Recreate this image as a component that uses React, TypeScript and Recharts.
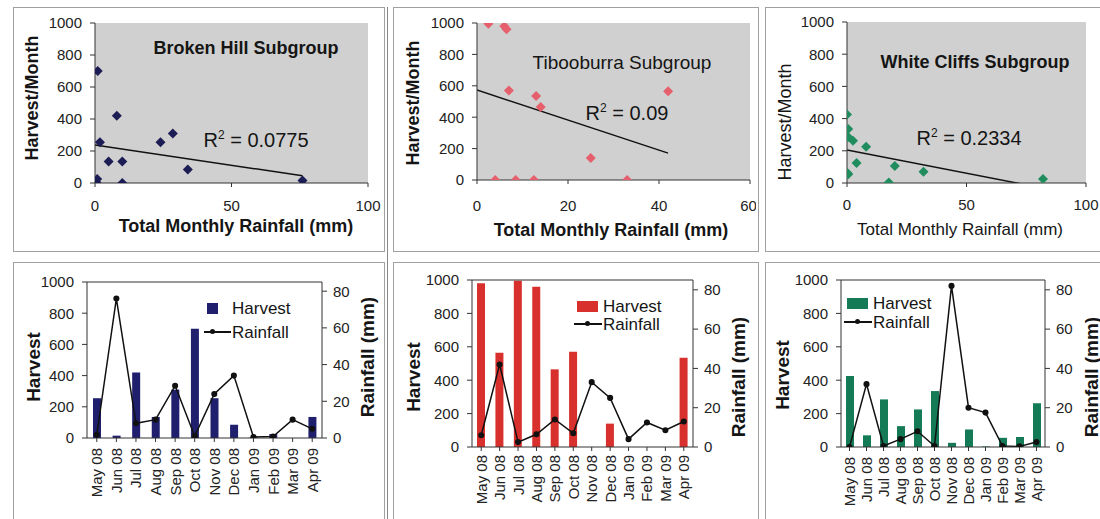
import React from 'react';
import {
  ScatterChart,
  Scatter,
  ComposedChart,
  Bar,
  Line,
  XAxis,
  YAxis,
  CartesianGrid,
  ReferenceLine,
} from 'recharts';

// months shared by all three subgroups
const months = ['May 08', 'Jun 08', 'Jul 08', 'Aug 08', 'Sep 08', 'Oct 08', 'Nov 08', 'Dec 08', 'Jan 09', 'Feb 09', 'Mar 09', 'Apr 09'];

const brokenHillHarvest = [255, 15, 420, 135, 310, 700, 255, 85, 5, 25, 0, 135];
const brokenHillRainfall = [1.8, 76, 8, 10, 28.5, 1, 24, 34, 0.5, 0.8, 10, 5];

const tibooburraHarvest = [980, 565, 995, 960, 465, 570, 0, 140, 0, 0, 0, 535];
const tibooburraRainfall = [6, 42, 2.5, 6.5, 14, 7, 33, 25, 4, 12.5, 8.5, 13];

const whiteCliffsHarvest = [425, 70, 285, 125, 225, 335, 25, 105, 3, 55, 60, 262];
const whiteCliffsRainfall = [0, 32, 0.5, 4, 8, 0.5, 82, 20, 17.5, 0.5, 0.3, 2.5];

const harvestTicks = [0, 200, 400, 600, 800, 1000];
const rainfallTicks = [0, 20, 40, 60, 80];
const brokenHillRainTicks = [0, 50, 100];
const tibooburraRainTicks = [0, 20, 40, 60];
const whiteCliffsRainTicks = [0, 50, 100];

const FONT = '"Liberation Sans", Arial, Helvetica, sans-serif';
const tickStyle = { fontSize: 15, fill: '#222', fontFamily: FONT };

type Pt = { x: number; y: number };
type Margin = { top: number; right: number; bottom: number; left: number };

// least squares trendline, like Excel's linear trendline
function trend(xs: number[], ys: number[]): Pt[] {
  const n = xs.length;
  const mx = xs.reduce((a, b) => a + b, 0) / n;
  const my = ys.reduce((a, b) => a + b, 0) / n;
  let sxy = 0;
  let sxx = 0;
  xs.forEach((x, i) => {
    sxy += (x - mx) * (ys[i] - my);
    sxx += (x - mx) * (x - mx);
  });
  const b = sxy / sxx;
  const a = my - b * mx;
  const xEnd = Math.max(...xs);
  return [{ x: 0, y: a }, { x: xEnd, y: a + b * xEnd }];
}

const diamond = (color: string) => (props: any) => {
  const { cx, cy } = props;
  const r = 5;
  return <polygon points={`${cx},${cy - r} ${cx + r},${cy} ${cx},${cy + r} ${cx - r},${cy}`} fill={color} />;
};

const Txt = ({ x, y, size, bold, rotate, anchor, children }: any) => (
  <div
    style={{
      position: 'absolute',
      left: x,
      top: y,
      transform: `translate(${anchor === 'start' ? '0' : '-50%'},-50%)${rotate ? ` rotate(${rotate}deg)` : ''}`,
      fontSize: size,
      fontWeight: bold ? 'bold' : 'normal',
      fontFamily: FONT,
      whiteSpace: 'nowrap',
      lineHeight: 1,
      color: '#151515',
    }}
  >
    {children}
  </div>
);

const R2 = ({ value }: { value: string }) => (
  <span>
    R<span style={{ fontSize: '0.6em', position: 'relative', top: '-0.65em' }}>2</span> = {value}
  </span>
);

interface ScatterPanelProps {
  left: number;
  top: number;
  width: number;
  height: number;
  margin: Margin;
  rain: number[];
  harvest: number[];
  xMax: number;
  xTicks: number[];
  color: string;
  tickGap: number;
}

const ScatterPanel = (p: ScatterPanelProps) => {
  const points = p.rain.map((x, i) => ({ x, y: p.harvest[i] }));
  return (
    <div style={{ position: 'absolute', left: p.left, top: p.top }}>
      <ScatterChart width={p.width} height={p.height} margin={p.margin}>
        <CartesianGrid fill="#d0d0d0" horizontal={false} vertical={false} />
        <XAxis
          type="number"
          dataKey="x"
          domain={[0, p.xMax]}
          ticks={p.xTicks}
          height={30}
          stroke="#333"
          tickSize={4}
          tickMargin={p.tickGap}
          tick={tickStyle}
          allowDataOverflow
        />
        <YAxis
          type="number"
          dataKey="y"
          domain={[0, 1000]}
          ticks={harvestTicks}
          width={40}
          stroke="#333"
          tickSize={5}
          tickMargin={8}
          tick={tickStyle}
          allowDataOverflow
        />
        <ReferenceLine segment={trend(p.rain, p.harvest)} stroke="#111" strokeWidth={1.5} ifOverflow="hidden" />
        <Scatter data={points} shape={diamond(p.color)} isAnimationActive={false} />
      </ScatterChart>
    </div>
  );
};

const MonthTick = (props: any) => {
  const { x, y, payload } = props;
  return (
    <text
      x={x}
      y={y}
      transform={`rotate(-90 ${x} ${y})`}
      textAnchor="end"
      dominantBaseline="central"
      fontSize={15}
      fontFamily={FONT}
      fill="#222"
    >
      {payload.value}
    </text>
  );
};

interface ComboPanelProps {
  left: number;
  top: number;
  width: number;
  height: number;
  margin: Margin;
  xHeight: number;
  monthGap: number;
  harvest: number[];
  rain: number[];
  color: string;
}

const ComboPanel = (p: ComboPanelProps) => {
  const rows = months.map((m, i) => ({ month: m, harvest: p.harvest[i], rainfall: p.rain[i] }));
  return (
    <div style={{ position: 'absolute', left: p.left, top: p.top }}>
      <ComposedChart width={p.width} height={p.height} margin={p.margin} data={rows}>
        <XAxis
          dataKey="month"
          interval={0}
          height={p.xHeight}
          stroke="#333"
          tickSize={4}
          tickMargin={p.monthGap}
          tick={<MonthTick />}
        />
        <YAxis
          yAxisId="h"
          domain={[0, 1000]}
          ticks={harvestTicks}
          width={40}
          stroke="#333"
          tickSize={5}
          tickMargin={8}
          tick={tickStyle}
          allowDataOverflow
        />
        <YAxis
          yAxisId="r"
          orientation="right"
          domain={[0, 85]}
          ticks={rainfallTicks}
          width={40}
          stroke="#333"
          tickSize={5}
          tickMargin={6}
          tick={tickStyle}
          allowDataOverflow
        />
        <ReferenceLine yAxisId="h" y={1000} stroke="#333" />
        <Bar yAxisId="h" dataKey="harvest" fill={p.color} barSize={8} isAnimationActive={false} />
        <Line
          yAxisId="r"
          dataKey="rainfall"
          stroke="#111"
          strokeWidth={1.5}
          dot={{ r: 2.3, fill: '#111', stroke: '#111' }}
          isAnimationActive={false}
        />
      </ComposedChart>
    </div>
  );
};

const LegendBox = ({ x, y, swW, gap, pad, color }: any) => (
  <>
    <div style={{ position: 'absolute', left: x, top: y - 5, width: swW, height: 11, background: color }} />
    <Txt x={x + swW + pad} y={y} size={17} anchor="start">Harvest</Txt>
    <div style={{ position: 'absolute', left: x - 3, top: y + gap, width: swW + pad + 2, height: 1.5, background: '#111' }} />
    <div
      style={{
        position: 'absolute',
        left: x + swW / 2 - 2.5,
        top: y + gap - 1.8,
        width: 5,
        height: 5,
        borderRadius: 3,
        background: '#111',
      }}
    />
    <Txt x={x + swW + pad} y={y + gap + 1} size={17} anchor="start">Rainfall</Txt>
  </>
);

const Frame = ({ x, y, w, h }: any) => (
  <div style={{ position: 'absolute', left: x, top: y, width: w, height: h, border: '1px solid #a0a0a0' }} />
);

export default function App() {
  return (
    <div
      style={{
        position: 'absolute',
        left: 0,
        top: 0,
        width: 1100,
        height: 519,
        overflow: 'hidden',
        background: '#fff',
        fontFamily: FONT,
      }}
    >
      <Frame x={13} y={7} w={370} h={243} />
      <Frame x={393} y={7} w={364} h={243} />
      <Frame x={765} y={7} w={345} h={243} />
      <Frame x={13} y={262} w={370} h={270} />
      <Frame x={393} y={262} w={364} h={270} />
      <Frame x={765} y={262} w={345} h={270} />
      <div style={{ position: 'absolute', left: 387, top: 7, width: 1, height: 512, background: '#888' }} />

      {/* top row: harvest vs rainfall scatter */}
      <ScatterPanel
        left={14}
        top={7}
        width={370}
        height={243}
        margin={{ top: 16, right: 16, bottom: 37, left: 41 }}
        rain={brokenHillRainfall}
        harvest={brokenHillHarvest}
        xMax={100}
        xTicks={brokenHillRainTicks}
        color="#1d1d55"
        tickGap={13}
      />
      <ScatterPanel
        left={394}
        top={7}
        width={362}
        height={243}
        margin={{ top: 16, right: 6, bottom: 40, left: 43 }}
        rain={tibooburraRainfall}
        harvest={tibooburraHarvest}
        xMax={60}
        xTicks={tibooburraRainTicks}
        color="#e5606c"
        tickGap={16}
      />
      <ScatterPanel
        left={766}
        top={7}
        width={334}
        height={243}
        margin={{ top: 15, right: 14, bottom: 37, left: 41 }}
        rain={whiteCliffsRainfall}
        harvest={whiteCliffsHarvest}
        xMax={100}
        xTicks={whiteCliffsRainTicks}
        color="#1f8d5e"
        tickGap={12}
      />

      <Txt x={246} y={48} size={18} bold>Broken Hill Subgroup</Txt>
      <Txt x={256} y={140} size={20}><R2 value="0.0775" /></Txt>
      <Txt x={32} y={98} size={18} bold rotate={-90}>Harvest/Month</Txt>
      <Txt x={236} y={226} size={18} bold>Total Monthly Rainfall (mm)</Txt>

      <Txt x={622} y={62} size={19}>Tibooburra Subgroup</Txt>
      <Txt x={627} y={113} size={20}><R2 value="0.09" /></Txt>
      <Txt x={413} y={103} size={18} bold rotate={-90}>Harvest/Month</Txt>
      <Txt x={611} y={230} size={18} bold>Total Monthly Rainfall (mm)</Txt>

      <Txt x={975} y={62} size={18} bold>White Cliffs Subgroup</Txt>
      <Txt x={969} y={138} size={20}><R2 value="0.2334" /></Txt>
      <Txt x={785} y={122} size={18} rotate={-90}>Harvest/Month</Txt>
      <Txt x={960} y={229} size={17}>Total Monthly Rainfall (mm)</Txt>

      {/* bottom row: monthly harvest bars with rainfall line */}
      <ComboPanel
        left={14}
        top={262}
        width={370}
        height={257}
        margin={{ top: 20, right: 22, bottom: 11, left: 33 }}
        xHeight={70}
        monthGap={6}
        harvest={brokenHillHarvest}
        rain={brokenHillRainfall}
        color="#1f1f6e"
      />
      <ComboPanel
        left={394}
        top={262}
        width={362}
        height={257}
        margin={{ top: 18, right: 23, bottom: 7, left: 38 }}
        xHeight={65}
        monthGap={4}
        harvest={tibooburraHarvest}
        rain={tibooburraRainfall}
        color="#d8302d"
      />
      <ComboPanel
        left={766}
        top={262}
        width={334}
        height={257}
        margin={{ top: 18, right: 15, bottom: 7, left: 35 }}
        xHeight={65}
        monthGap={6}
        harvest={whiteCliffsHarvest}
        rain={whiteCliffsRainfall}
        color="#157a56"
      />

      <Txt x={33} y={367} size={19} bold rotate={-90}>Harvest</Txt>
      <Txt x={367} y={357} size={19} bold rotate={-90}>Rainfall (mm)</Txt>
      <LegendBox x={207} y={308} swW={11} gap={23} pad={14} color="#1f1f6e" />

      <Txt x={413} y={377} size={19} bold rotate={-90}>Harvest</Txt>
      <Txt x={738} y={377} size={19} bold rotate={-90}>Rainfall (mm)</Txt>
      <LegendBox x={577} y={306} swW={21} gap={17} pad={5} color="#d8302d" />

      <Txt x={782} y={375} size={19} bold rotate={-90}>Harvest</Txt>
      <Txt x={1091} y={377} size={19} bold rotate={-90}>Rainfall (mm)</Txt>
      <LegendBox x={847} y={303} swW={21} gap={18} pad={5} color="#157a56" />
    </div>
  );
}
